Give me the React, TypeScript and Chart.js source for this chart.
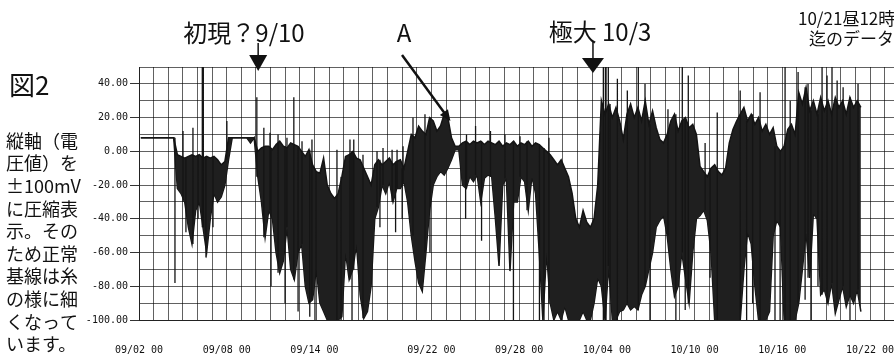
import React, { useEffect, useRef } from 'react';
import { Chart, registerables } from 'chart.js';

Chart.register(...registerables);

// ---- axis data ----
const TICK_DAYS = [0, 6, 12, 20, 26, 32, 38, 44, 50];
const TICK_LABELS = ['09/02 00', '09/08 00', '09/14 00', '09/22 00', '09/28 00', '10/04 00', '10/10 00', '10/16 00', '10/22 00'];
const Y_LABEL_VALUES = [40, 20, 0, -20, -40, -60, -80, -100];
const Y_MIN = -100;
const Y_MAX = 50;
const X_MIN = 0;
const X_MAX = 51.64;

// ---- series: voltage envelope per 6-hour bin (day = index * 0.25, from 09/02 00) ----
const BIN_DAYS = 0.25;
const HIGH = [
  8, 8, 8, 8, 8, 8, 8, 8, 8, 8,
  -2, -3, -4, -3, -2, -3, -2, -4, -3, -4, -3, -5, -8, -6, 8,
  8, 8, 8, 8, 8, 8, 8,
  0,
  2, 3, 3, 1, 4, 6, 3, 2, 5, 4, 3, 0, -3, 1, -8, -12, -13, -4, -20, -25, -28, -25, -15, -3, -2, 0,
  -4, -5, -10, -15, -20, -8, -5, -8, -6, -4, -8, -6, -5, -10, 0, 10, 8, 15, 12, 10, 20, 18, 12, 15, 22, 20, 8,
  3, 3,
  5, 6, 4, 6, 5, 6, 4, 6, 5, 4, 6, 3, 5, 4, 6, 3, 5, 4, 6, 3, 5, 4, 2, 0, -2, -5, -8, -5, -10, -15,
  -25, -40, -45, -35, -42, -45, -40, -20,
  30, 22, 28, 20, 26, 18, 7, 22, 28, 20, 26, 18, 30, 16, 24, 14, 7, 5, 10, 18, 22, 12, 18, 20, 14, 16,
  10, -9, -12, -15, -10, -8, -12, -14, -10, 5, 13, 18, 22, 26, 18, 22, 16, 20, 12, 16, 10, 14, 3, 0,
  3, 13, 16, 10, 35, 28, 38, 24, 30, 22, 32, 24, 30, 22, 32, 26, 30, 22, 32, 26, 30, 26,
];
const LOW = [
  8, 8, 8, 8, 8, 8, 8, 8, 8, 8,
  -22, -25, -30, -45, -55, -35, -30, -45, -60, -40, -25, -30, -27, -20, -5,
  8, 8, 8, 8, 8, 5, 8,
  -15,
  -30, -51, -35, -40, -60, -72, -65, -45, -70, -76, -60, -55, -80, -90, -88, -70, -90, -95, -100, -100, -100, -100, -98, -60, -76, -70,
  -55, -85, -99, -95, -80, -40, -33, -20, -25, -18, -30, -22, -22, -18, -30, -50, -65, -78, -83, -60, -35, -20, -15, -12, -14, -10, -5,
  1, 1,
  -20, -22, -15, -18, -14, -30, -16, -14, -15, -40, -68, -20, -16, -71, -30, -30, -15, -18, -35, -15, -25, -60, -100, -60, -90, -100, -95, -100, -92, -100,
  -100, -100, -100, -95, -100, -100, -90, -75,
  -80, -100, -68, -100, -100, -95, -94, -90, -94, -92, -94, -85, -80, -70, -60, -45, -41, -38, -50, -70, -86, -80, -60, -75, -90, -60,
  -40, -38, -35, -41, -60, -100, -100, -100, -100, -100, -100, -100, -100, -70, -48, -55, -80, -100, -100, -100, -95, -50, -41, -45,
  -100, -100, -100, -100, -90, -70, -48, -75, -37, -40, -85, -82, -90, -78, -96, -88, -80, -92, -85, -90, -82, -95,
];
// thin isolated spikes (day from 09/02 00, value mV)
const SPIKE_DAYS = [
  2.46, 3.01, 3.21, 3.69, 4.04, 4.33, 4.40, 4.58, 5.06, 6.01,
  8.06, 8.54, 8.96, 9.03, 9.51, 9.99, 10.12, 10.59, 10.88, 11.15, 11.68, 11.83, 12.11, 13.54, 13.82, 14.43, 14.57, 14.69,
  15.32, 16.28, 16.48, 16.69, 17.31, 17.55, 17.65, 18.0, 18.06, 18.74, 19.56, 19.9,
  22.34, 22.40, 23.02, 23.43, 24.04, 25.03, 25.61, 26.06, 26.54, 27.39, 27.7, 28.04,
  31.76, 31.9, 32.10, 32.22, 32.72, 33.40, 34.15, 34.61, 34.95, 36.18, 36.72, 37.16, 37.36, 37.57,
  38.72, 39.06, 39.55, 41.12, 41.56, 41.97, 42.48, 43.5, 43.85, 44.19, 44.54, 45.08, 45.56, 45.76,
  45.96, 46.44, 46.72, 47.06, 47.4, 47.75, 48.16, 48.63, 49.18,
];
const SPIKE_VALUES = [
  -78, 12, -48, 14, -40, 55, 55, -63, -45, 18,
  32, 14, 11, -80, 10, -90, 8, 32, -95, 6, -98, 7, -100, 1, -100, 7, -100, 7,
  -2, 0, -45, 2, 1, -48, 1, -40, 3, 20, 22, -60,
  -40, 10, 15, -53, 12, 10, -100, 9, -35, -100, -100, 8,
  55, 55, 55, -100, 43, 36, 55, 40, -100, 25, -100, 55, -94, 45,
  5, -75, 23, 36, -100, -90, 35, -100, -100, 55, 30, 47, -88, 40,
  -100, -80, 55, 45, 50, 42, 38, -100, 40,
];

// ---- annotation data ----
const FIRST_DAY = 8.15;   // 初現？9/10
const MAX_DAY = 31.05;    // 極大 10/3
const A_DAY = 21.3;
const A_VALUE = 18;
const NOTE_LINES = ['縦軸（電', '圧値）を', '±100mV', 'に圧縮表', '示。その', 'ため正常', '基線は糸', 'の様に細', 'くなって', 'います。'];

const binDay = (i: number) => i * BIN_DAYS + BIN_DAYS / 2;
const highPoints = () => HIGH.map((v, i) => ({ x: binDay(i), y: v }));
const lowPoints = () => LOW.map((v, i) => ({ x: binDay(i), y: v }));
function spikePoints() {
  const order = SPIKE_DAYS.map((_, k) => k).sort((a, b) => SPIKE_DAYS[a] - SPIKE_DAYS[b]);
  const pts: { x: number; y: number }[] = [];
  order.forEach((k) => {
    const d = SPIKE_DAYS[k];
    const bin = Math.min(HIGH.length - 1, Math.floor(d / BIN_DAYS));
    const v = SPIKE_VALUES[k];
    const base = v > HIGH[bin] ? LOW[bin] : HIGH[bin];
    pts.push({ x: d, y: base }, { x: d, y: v }, { x: d, y: NaN });
  });
  return pts;
}

const JP = '"Noto Sans CJK JP", "Noto Sans", sans-serif';

const annotations = {
  id: 'annotations',
  afterDraw(chart: any) {
    const ctx = chart.ctx as CanvasRenderingContext2D;
    const xs = chart.scales.x;
    const ys = chart.scales.y;
    ctx.save();
    ctx.fillStyle = '#111';
    ctx.strokeStyle = '#111';

    // left notes
    ctx.textBaseline = 'alphabetic';
    ctx.textAlign = 'left';
    ctx.font = `26px ${JP}`;
    ctx.fillText('図2', 9, 95);
    ctx.font = `18px ${JP}`;
    ctx.textBaseline = 'middle';
    NOTE_LINES.forEach((s, i) => ctx.fillText(s, 6, 141 + i * 22.6));

    // top labels
    ctx.textAlign = 'center';
    ctx.textBaseline = 'alphabetic';
    ctx.font = `24px ${JP}`;
    ctx.fillText('初現？9/10', 244, 42);
    ctx.fillText('A', 404, 42);
    ctx.fillText('極大 10/3', 600, 41);
    ctx.textAlign = 'left';
    ctx.font = `17px ${JP}`;
    ctx.fillText('10/21昼12時', 798, 25);
    ctx.fillText('迄のデータ', 809, 45);

    // down arrows
    const downArrow = (x: number, y0: number, y1: number, tip: number, half: number) => {
      ctx.lineWidth = 1.5;
      ctx.beginPath();
      ctx.moveTo(x, y0);
      ctx.lineTo(x, y1);
      ctx.stroke();
      ctx.beginPath();
      ctx.moveTo(x - half, y1);
      ctx.lineTo(x + half, y1);
      ctx.lineTo(x, tip);
      ctx.closePath();
      ctx.fill();
    };
    downArrow(xs.getPixelForValue(FIRST_DAY), 43, 55, 71, 9);
    downArrow(xs.getPixelForValue(MAX_DAY), 42, 58, 73, 11);

    // A arrow
    const sx = 402, sy = 55;
    const ex = xs.getPixelForValue(A_DAY);
    const ey = ys.getPixelForValue(A_VALUE);
    const ang = Math.atan2(ey - sy, ex - sx);
    ctx.lineWidth = 2.5;
    ctx.beginPath();
    ctx.moveTo(sx, sy);
    ctx.lineTo(ex - 6 * Math.cos(ang), ey - 6 * Math.sin(ang));
    ctx.stroke();
    const hl = 11, hw = 5;
    ctx.beginPath();
    ctx.moveTo(ex, ey);
    ctx.lineTo(ex - hl * Math.cos(ang) + hw * Math.sin(ang), ey - hl * Math.sin(ang) - hw * Math.cos(ang));
    ctx.lineTo(ex - hl * Math.cos(ang) - hw * Math.sin(ang), ey - hl * Math.sin(ang) + hw * Math.cos(ang));
    ctx.closePath();
    ctx.fill();
    ctx.restore();
  },
};

export default function App() {
  const ref = useRef<HTMLCanvasElement | null>(null);
  useEffect(() => {
    document.body.style.margin = '0';
    const canvas = ref.current;
    if (!canvas) return;
    const monoFont = { family: '"DejaVu Sans Mono", monospace', size: 10 };
    const ink = '#141414';
    const chart = new Chart(canvas, {
      type: 'line',
      data: {
        datasets: [
          {
            label: 'spikes',
            data: spikePoints(),
            borderColor: ink,
            borderWidth: 1.3,
            pointRadius: 0,
            tension: 0,
            spanGaps: false,
            fill: false,
          },
          {
            label: 'high',
            data: highPoints(),
            borderColor: ink,
            backgroundColor: '#1f1f1f',
            borderWidth: 1.5,
            pointRadius: 0,
            tension: 0,
            fill: '+1',
          },
          {
            label: 'low',
            data: lowPoints(),
            borderColor: ink,
            borderWidth: 1.5,
            pointRadius: 0,
            tension: 0,
            fill: false,
          },
        ],
      },
      options: {
        animation: false,
        responsive: false,
        events: [],
        parsing: false,
        layout: { padding: { left: 0, top: 67, right: 0, bottom: 0 } },
        plugins: { legend: { display: false }, tooltip: { enabled: false }, title: { display: false } },
        scales: {
          x: {
            type: 'linear',
            min: X_MIN,
            max: X_MAX,
            afterBuildTicks: (s: any) => {
              const t = [];
              for (let d = 0; d <= 51; d++) t.push({ value: d });
              s.ticks = t;
            },
            afterFit: (s: any) => {
              s.height = 41;
              s.paddingLeft = 0;
              s.paddingRight = 0;
            },
            ticks: {
              autoSkip: false,
              maxRotation: 0,
              minRotation: 0,
              padding: 24,
              color: '#111',
              font: monoFont,
              callback: (v: any) => {
                const k = TICK_DAYS.indexOf(Number(v));
                return k >= 0 ? TICK_LABELS[k] : '';
              },
            },
            grid: { color: 'rgba(0,0,0,0.62)', lineWidth: 1, drawTicks: false },
            border: { color: '#222', width: 1 },
          },
          y: {
            type: 'linear',
            min: Y_MIN,
            max: Y_MAX,
            afterBuildTicks: (s: any) => {
              const t = [];
              for (let v = Y_MIN; v <= Y_MAX; v += 10) t.push({ value: v });
              s.ticks = t;
            },
            afterFit: (s: any) => {
              s.width = 139;
              s.paddingTop = 0;
              s.paddingBottom = 0;
            },
            ticks: {
              autoSkip: false,
              padding: 2,
              color: '#111',
              font: monoFont,
              callback: (v: any) => (Y_LABEL_VALUES.includes(Number(v)) ? Number(v).toFixed(2) : ''),
            },
            grid: {
              color: 'rgba(0,0,0,0.62)',
              lineWidth: 1,
              tickLength: 9,
              tickColor: (c: any) => (c.tick && Y_LABEL_VALUES.includes(c.tick.value) ? '#333' : 'rgba(0,0,0,0)'),
            },
            border: { color: '#222', width: 1 },
          },
        },
      },
      plugins: [annotations],
    } as any);
    return () => chart.destroy();
  }, []);
  return (
    <div style={{ position: 'relative', width: 894, height: 361, background: '#fff' }}>
      <canvas ref={ref} width={894} height={361} style={{ display: 'block', width: 894, height: 361 }} />
    </div>
  );
}
